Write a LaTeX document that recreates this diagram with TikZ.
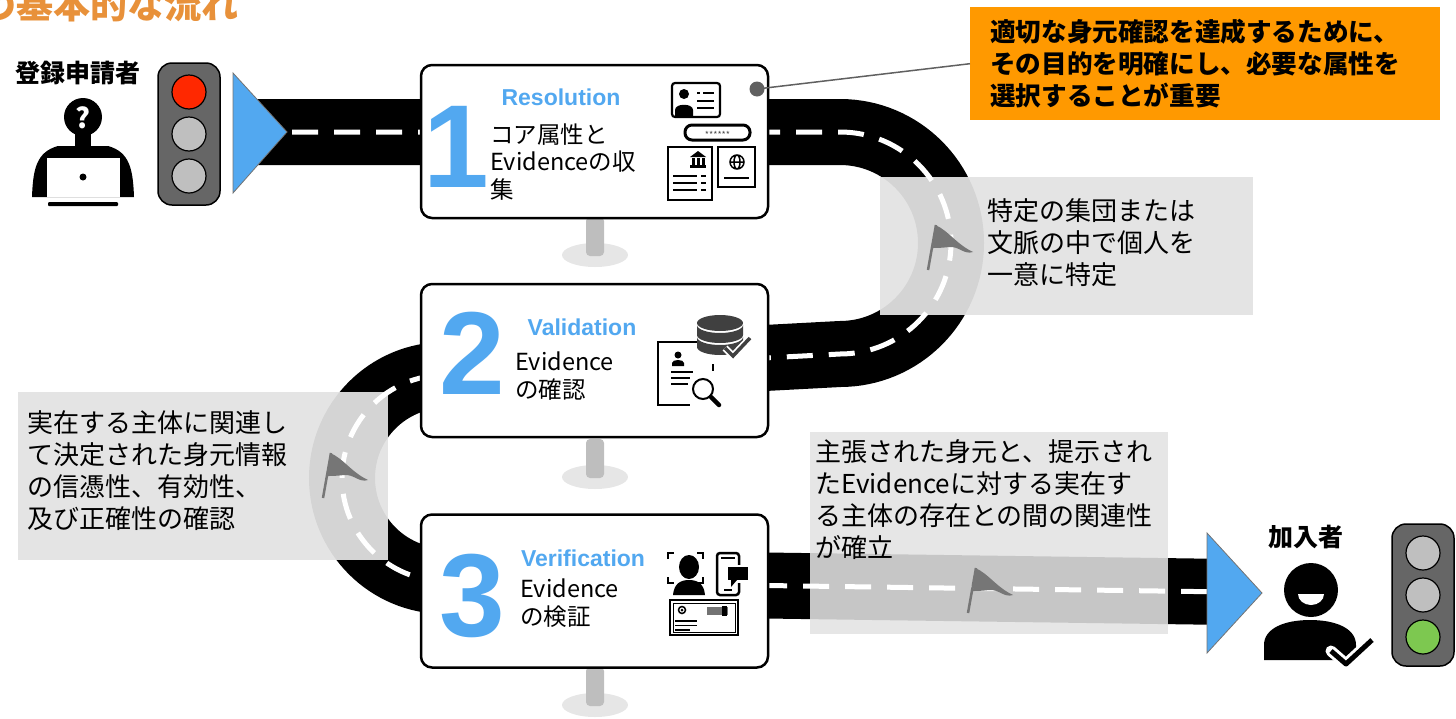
\documentclass[tikz,border=0pt]{standalone}
\usepackage{fontspec}
\setmainfont{Noto Sans CJK JP}
\newfontfamily\headfont{Liberation Sans}
\definecolor{roadblue}{RGB}{82,168,240}
\definecolor{signalbody}{RGB}{102,102,102}
\definecolor{lampoff}{RGB}{191,191,191}
\definecolor{lampred}{RGB}{255,40,0}
\definecolor{lampgreen}{RGB}{125,200,80}
\definecolor{goalorange}{RGB}{255,153,0}
\definecolor{titleorange}{RGB}{232,145,58}
\definecolor{panelgray}{RGB}{226,226,226}
\definecolor{flaggray}{RGB}{118,118,118}
\definecolor{pingray}{RGB}{96,96,96}
\definecolor{postgray}{RGB}{190,190,190}
\definecolor{shadowgray}{RGB}{230,230,230}
\definecolor{dbgray}{RGB}{64,64,64}
\newcommand{\trafficlamp}[4]{%
  \begin{scope}[shift={(#1)}]
    \draw[fill=signalbody, line width=1.5pt, rounded corners=14pt] (-31,-71) rectangle (31,71);
    \draw[fill=#2, line width=1.2pt] (0,-42) circle[radius=17];
    \draw[fill=#3, line width=1.2pt] (0,0) circle[radius=17];
    \draw[fill=#4, line width=1.2pt] (0,42) circle[radius=17];
  \end{scope}}
\tikzset{roadflag/.pic={
  \draw[flaggray, line width=2.5pt] (0,0) -- (8,-45);
  \fill[flaggray] (7,-45) .. controls (20,-40) and (28,-26) .. (45,-18)
    .. controls (36,-15) and (31,-24) .. (21,-23)
    .. controls (13,-22) and (8,-22) .. (5,-22) -- cycle;
}}
\begin{document}
\begin{tikzpicture}[x=1pt, y=-1pt,
  road/.style={line width=66pt, line cap=butt},
  roadline/.style={white, line width=5pt, dash pattern=on 26pt off 16pt},
  panel/.style={fill=panelgray, fill opacity=0.94},
  sign/.style={draw, fill=white, line width=2.5pt, rounded corners=11pt, minimum width=347pt, minimum height=153pt},
  stepno/.style={text=roadblue, font=\headfont\bfseries\fontsize{118}{118}\selectfont, anchor=base, inner sep=0pt},
  stepname/.style={text=roadblue, font=\headfont\bfseries\fontsize{23}{23}\selectfont},
  stepbody/.style={anchor=west, align=left, inner sep=0pt, font=\fontsize{23.5}{27.5}\selectfont},
  note/.style={anchor=west, align=left, inner sep=0pt, font=\fontsize{26}{32}\selectfont},
  who/.style={font=\bfseries\fontsize{25}{25}\selectfont},
  icon/.style={line width=2.2pt},
  arrowhead/.style={fill=roadblue, draw=black!55, line width=0.8pt}]
\useasboundingbox (0,0) rectangle (1456,718);

\node[anchor=base east, text=titleorange, font=\bfseries\fontsize{37}{37}\selectfont] (title) at (242,18) {の基本的な流れ};

\foreach \y in {255,477,705} {
  \fill[shadowgray] (595,\y) ellipse[x radius=33, y radius=12];
  \fill[postgray, rounded corners=4pt] (586,\y-38) rectangle (604,\y+1);
}

\coordinate (roadstart) at (250,132);
\coordinate (bendright) at (840,132);
\coordinate (bendleft) at (445,375);
\coordinate (roadend) at (1230,592);
\def\roadpath{(roadstart) -- (bendright) arc[start angle=-90, end angle=90, radius=111]
  -- (bendleft) arc[start angle=270, end angle=90, radius=103] -- (roadend)}
\draw[road] \roadpath;

\fill[panel] (880,177) rectangle (1253,315);
\fill[panel] (18,392) rectangle (388,560);
\fill[panel, fill opacity=0.88] (810,432) rectangle (1168,634);
\draw[roadline] \roadpath;

\pic at (928,270) {roadflag};
\pic at (323,498) {roadflag};
\pic at (968,613) {roadflag};

\node[note] (identnote) at (987,243) {特定の集団または\\文脈の中で個人を\\一意に特定};
\node[note] (validnote) at (27,471) {実在する主体に関連し\\て決定された身元情報\\の信憑性、有効性、\\及び正確性の確認};
\node[note] (verifnote) at (815,500) {主張された身元と、提示され\\たEvidenceに対する実在す\\る主体の存在との間の関連性\\が確立};

\node[sign] (resolution) at (594.5,141.5) {};
\node[stepno] (one) at (456,187) {1};
\node[stepname] (resname) at (561,97) {Resolution};
\node[stepbody] (resbody) at (490,162) {コア属性と\\Evidenceの収\\集};
\draw[icon, rounded corners=3pt] (672,83) rectangle (720,117);
\fill (684,94) circle[radius=5];
\fill (675,116) -- (675,110) .. controls (675,103) and (693,103) .. (693,110) -- (693,116) -- cycle;
\draw[line width=2pt] (697,93) -- (700,93) (703,93) -- (714,93) (697,101) -- (714,101) (697,108) -- (714,108);
\draw[line width=3pt, rounded corners=7pt] (685,125) rectangle (750,140);
\node[font=\fontsize{9}{9}\selectfont, text=black!70, inner sep=0pt] (pwd) at (717.5,135) {******};
\draw[icon] (668,147) rectangle (712,200);
\fill (690,157) -- (698,151) -- (706,157) -- cycle;
\foreach \x in {692,697,702} \fill (\x,158) rectangle ++(2.5,7);
\fill (690,165) rectangle (706,168);
\foreach \y in {176,183,190} \draw[line width=2pt] (673,\y) -- (697,\y) (701,\y) -- (706,\y);
\draw[icon] (718,147) rectangle (755,187);
\draw[line width=1.5pt] (737,162) circle[radius=7] (737,162) ellipse[x radius=3, y radius=7] (730,162) -- (744,162);
\draw[line width=1.5pt] (724,178) -- (749,178);

\node[sign] (validation) at (594.5,360.5) {};
\node[stepno] (two) at (472,394) {2};
\node[stepname] (valname) at (582,327) {Validation};
\node[stepbody] (valbody) at (515,376) {Evidence\\の確認};
\draw[icon] (700,342) -- (658,342) -- (658,405) -- (690,405);
\fill (678,355) circle[radius=3.5];
\fill (672,366) -- (672,363) .. controls (672,359) and (684,359) .. (684,363) -- (684,366) -- cycle;
\draw[line width=1.5pt] (671,372) -- (693,372) (671,378) -- (690,378) (671,384) -- (688,384);
\draw[line width=1.8pt] (713,364) -- (713,371);
\draw[line width=2pt] (703,389) circle[radius=10];
\draw[line width=4.5pt, line cap=round] (711,397) -- (719,405);
\fill[dbgray] (720,323) ellipse[x radius=23, y radius=8];
\foreach \t in {325,337}
  \fill[dbgray] (697,\t) arc[start angle=180, end angle=0, x radius=23, y radius=8]
    -- (743,\t+10) arc[start angle=0, end angle=180, x radius=23, y radius=8] -- cycle;
\draw[white, line width=7pt] (725,348) -- (733,356) -- (750,338);
\draw[dbgray, line width=3.5pt] (725,348) -- (733,356) -- (750,338);

\node[sign] (verification) at (594.5,591) {};
\node[stepno] (three) at (472,636) {3};
\node[stepname] (vername) at (583,558) {Verification};
\node[stepbody] (verbody) at (520,603) {Evidence\\の検証};
\draw[line width=2pt] (668,559) -- (668,553) -- (674,553) (697,553) -- (703,553) -- (703,559)
  (668,577) -- (668,583) -- (674,583) (697,583) -- (703,583) -- (703,577);
\fill (689,567) ellipse[x radius=10, y radius=12];
\fill (673,595) .. controls (674,584) and (680,580) .. (689,580) .. controls (698,580) and (704,584) .. (705,595) -- cycle;
\draw[line width=2.5pt, rounded corners=3pt] (717,553) rectangle (739,595);
\draw[line width=2pt] (721,558) -- (735,558) (724,590) -- (732,590);
\fill[white] (726,565) rectangle (750,583);
\fill (728,567) rectangle (748,580);
\fill (731,580) -- (731,587) -- (737,580) -- cycle;
\draw[line width=2pt] (670,600) rectangle (738,635);
\draw[line width=0.8pt] (673,603) rectangle (735,632);
\draw[line width=1.5pt] (682,610) circle[radius=3.5];
\fill (682,610) circle[radius=1.5];
\fill[black!55] (707,607) rectangle (728,615);
\fill (722,606) rectangle (727,616);
\draw[line width=1.5pt] (675,621) -- (697,621) (675,625.5) -- (697,625.5) (675,630) -- (690,630);

\draw[arrowhead] (233,73) -- (287,132) -- (233,193) -- cycle;
\draw[arrowhead] (1207,533) -- (1262,593) -- (1207,653) -- cycle;

\trafficlamp{189,134}{lampred}{lampoff}{lampoff}
\trafficlamp{1423,595}{lampoff}{lampoff}{lampgreen}

\node[who] (applicant) at (78,73) {登録申請者};
\fill (83,117) circle[radius=19];
\fill (75,130) rectangle (91,147);
\node[text=white, font=\bfseries\fontsize{28}{28}\selectfont, inner sep=0pt] (unknown) at (83,118) {?};
\fill (32,197) .. controls (33,170) and (36,152) .. (58,146) -- (108,146)
  .. controls (130,152) and (133,170) .. (134,197) -- cycle;
\fill[white] (47,158) rectangle (120,197);
\fill (83,177) circle[radius=3.5];
\fill[rounded corners=1pt] (48,202) rectangle (118,206);

\node[who] (member) at (1306,537) {加入者};
\fill (1311,590) circle[radius=27];
\fill[white] (1298,594) arc[start angle=180, end angle=0, x radius=13, y radius=11] -- cycle;
\fill (1264,660) -- (1264,645) .. controls (1264,628) and (1285,620) .. (1310,620)
  .. controls (1335,620) and (1356,628) .. (1356,645) -- (1356,660) -- cycle;
\draw[white, line width=11pt, line cap=round, line join=round] (1331,651) -- (1346,664) -- (1372,640);
\draw[line width=5pt, line join=round] (1331,651) -- (1346,664) -- (1372,640);

\node[fill=goalorange, text width=430pt, inner xsep=20pt, minimum height=113pt, align=left,
  font=\bfseries\fontsize{25.6}{32}\selectfont, anchor=north west] (goalnote) at (970,7)
  {適切な身元確認を達成するために、\\その目的を明確にし、必要な属性を\\選択することが重要};
\coordinate (pin) at (757,89);
\draw[pingray, line width=1.5pt] (pin) -- (goalnote.west);
\fill[pingray] (pin) circle[radius=7.5];

\end{tikzpicture}
\end{document}
